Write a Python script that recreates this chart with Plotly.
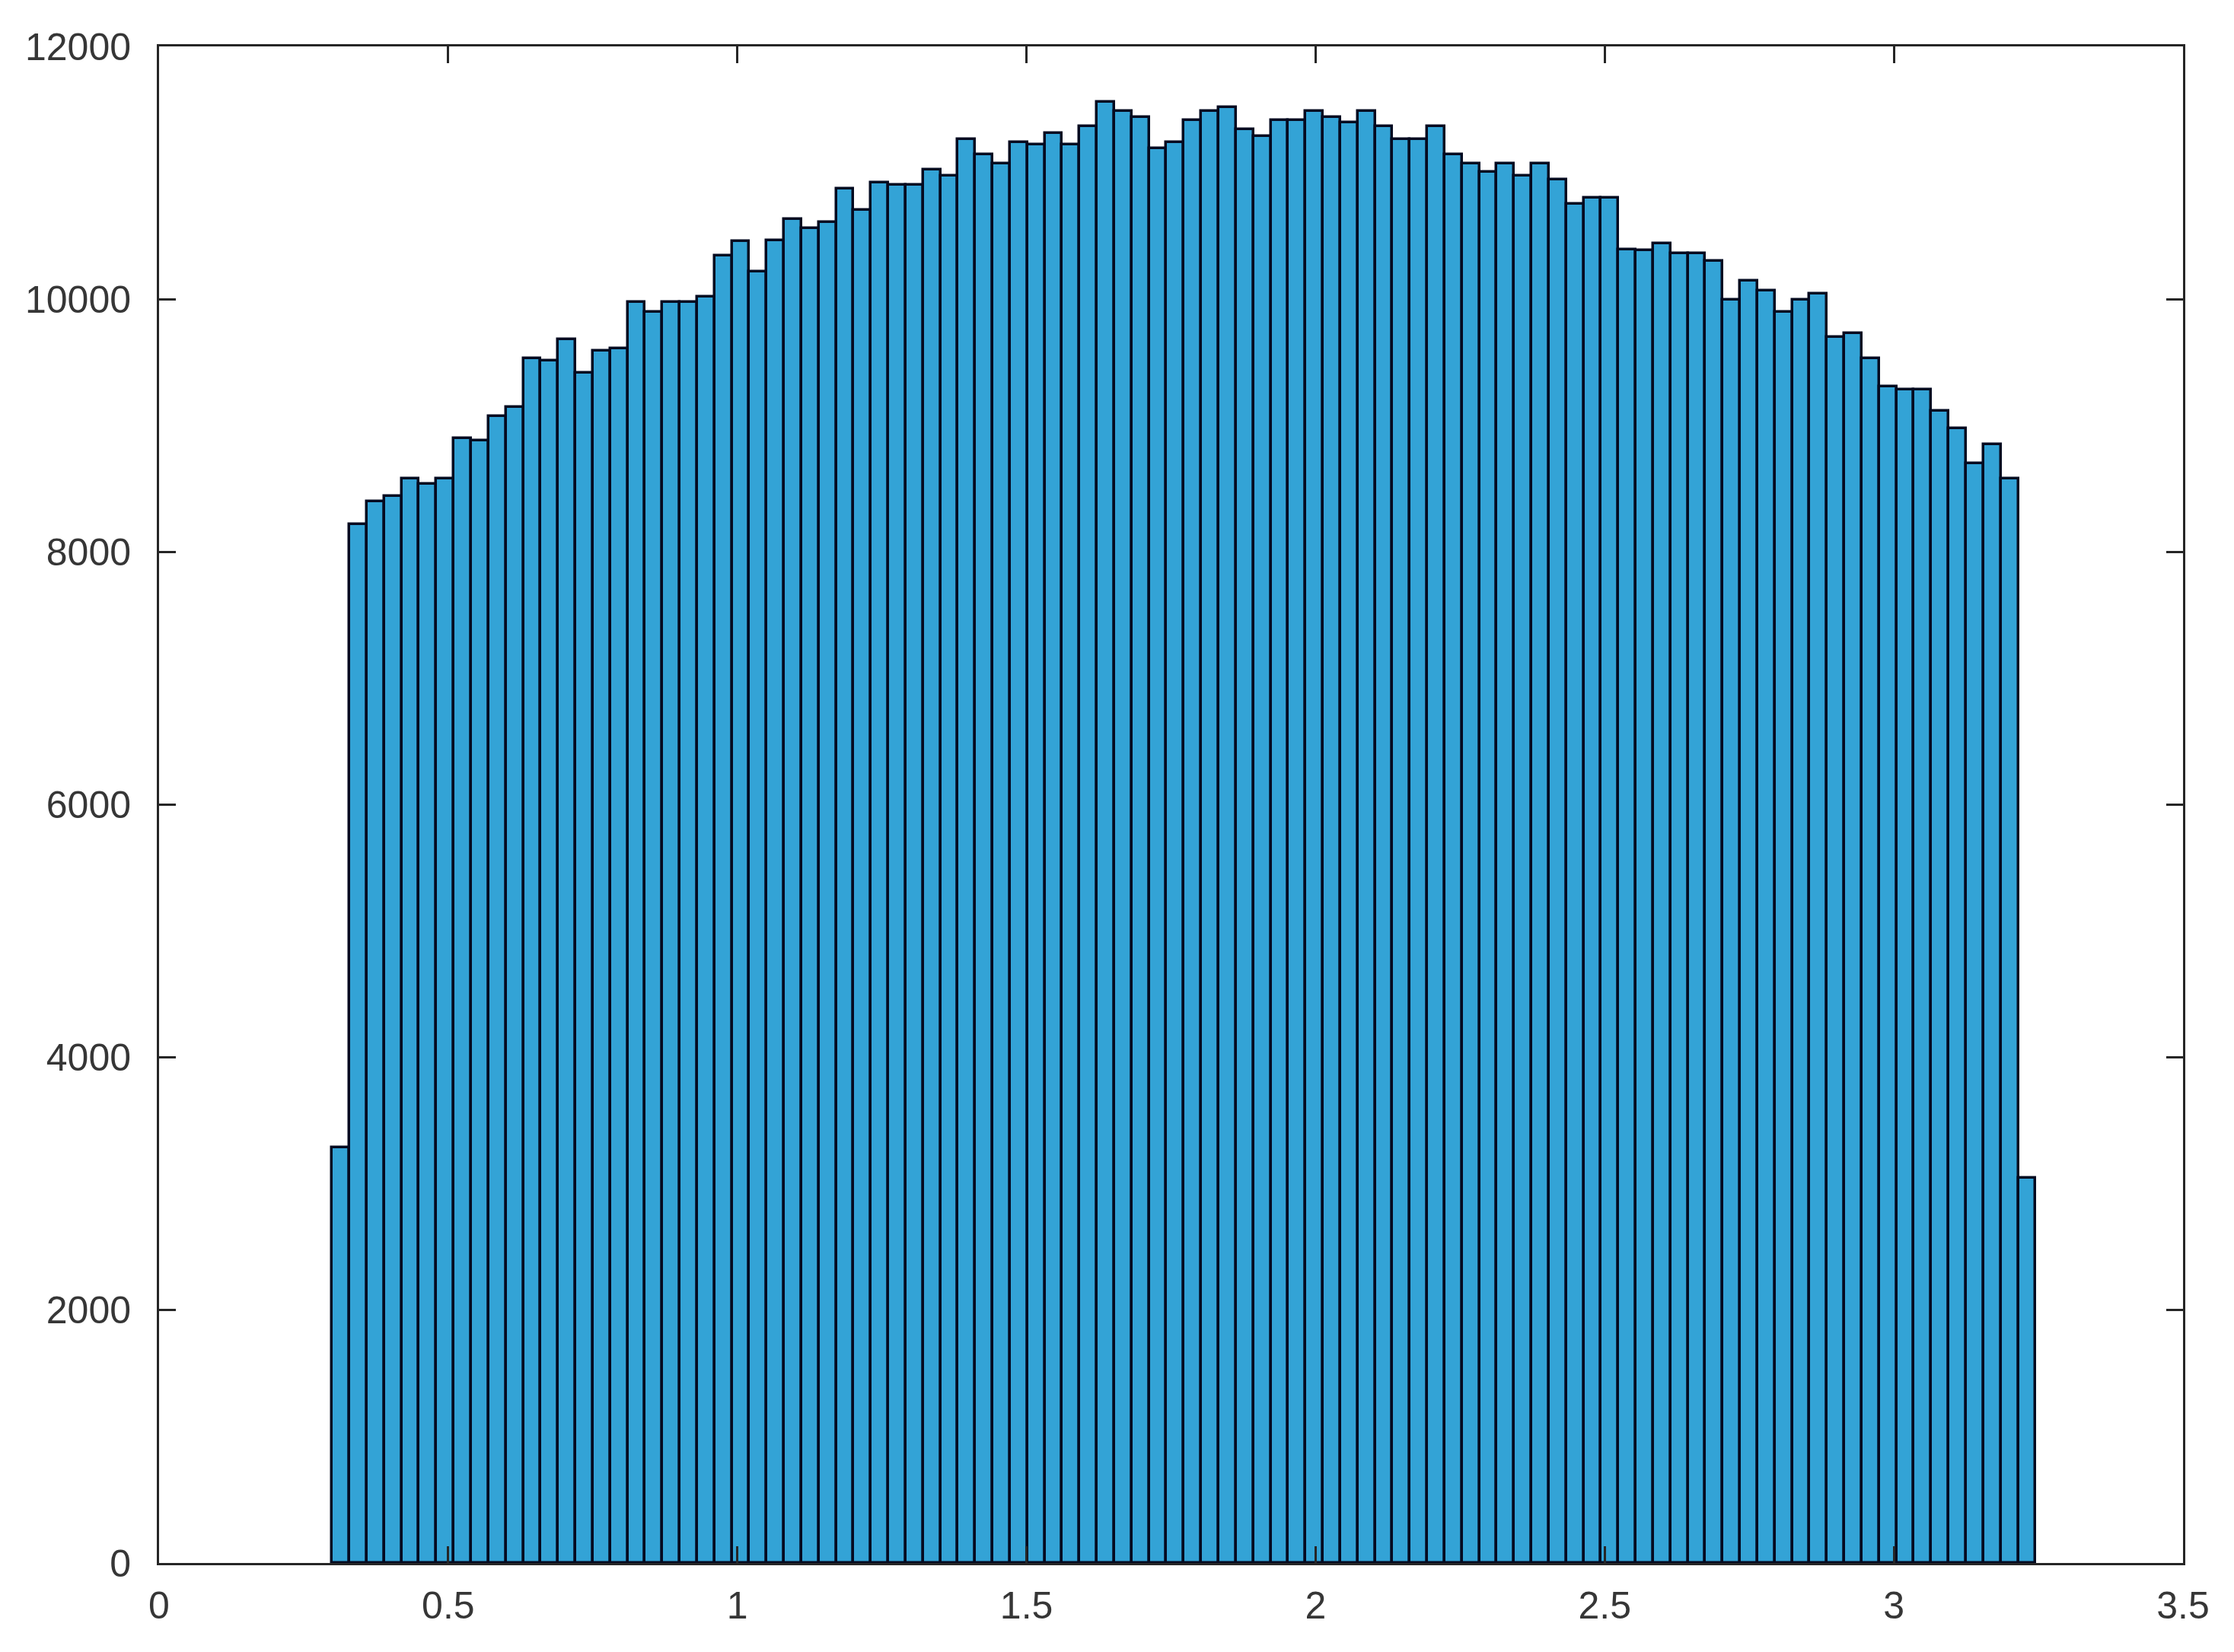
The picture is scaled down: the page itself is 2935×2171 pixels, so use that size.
import plotly.graph_objects as go

# Histogram bins
bin_start = 0.2992
bin_width = 0.03006
counts = [
    3290, 8220, 8400, 8440, 8580, 8540, 8580, 8900, 8880, 9075,
    9145, 9534, 9513, 9682, 9419, 9590, 9607, 9975, 9897, 9975,
    9975, 10018, 10346, 10461, 10220, 10462, 10636, 10563, 10609, 10874,
    10708, 10924, 10904, 10904, 11024, 10974, 11265, 11145, 11075, 11241,
    11225, 11315, 11225, 11366, 11560, 11486, 11442, 11195, 11241, 11416,
    11486, 11516, 11346, 11291, 11416, 11416, 11486, 11442, 11396, 11486,
    11366, 11265, 11265, 11366, 11145, 11075, 11004, 11075, 10978, 11075,
    10944, 10753, 10803, 10803, 10390, 10385, 10438, 10362, 10362, 10300,
    9995, 10143, 10070, 9897, 9995, 10046, 9700, 9731, 9533, 9309,
    9286, 9286, 9117, 8975, 8703, 8848, 8583, 3048,
]
centers = [bin_start + bin_width * (i + 0.5) for i in range(len(counts))]

x_ticks = [0, 0.5, 1, 1.5, 2, 2.5, 3, 3.5]
x_ticktext = ["0", "0.5", "1", "1.5", "2", "2.5", "3", "3.5"]
y_ticks = [0, 2000, 4000, 6000, 8000, 10000, 12000]
y_ticktext = ["0", "2000", "4000", "6000", "8000", "10000", "12000"]

fig = go.Figure()
fig.add_trace(go.Bar(
    x=centers,
    y=counts,
    width=bin_width,
    marker=dict(color="#33A3D6", line=dict(color="#050A20", width=3.5)),
    showlegend=False,
))

axis_common = dict(
    showgrid=False,
    zeroline=False,
    showline=True,
    linewidth=3,
    linecolor="#262626",
    mirror="ticks",
    ticks="inside",
    ticklen=22,
    tickwidth=3,
    tickcolor="#262626",
    automargin=False,
    tickfont=dict(family="Liberation Sans, Arial, sans-serif", size=50, color="#363636"),
)

fig.update_xaxes(range=[0, 3.5], tickvals=x_ticks, ticktext=x_ticktext,
                 ticklabelstandoff=10, **axis_common)
fig.update_yaxes(range=[0, 12000], tickvals=y_ticks, ticktext=y_ticktext,
                 ticklabelstandoff=24, **axis_common)

fig.update_layout(
    width=2935,
    height=2171,
    margin=dict(l=201, r=75, t=53, b=125, pad=0),
    paper_bgcolor="white",
    plot_bgcolor="white",
    bargap=0,
)

fig.write_html("out.html")
